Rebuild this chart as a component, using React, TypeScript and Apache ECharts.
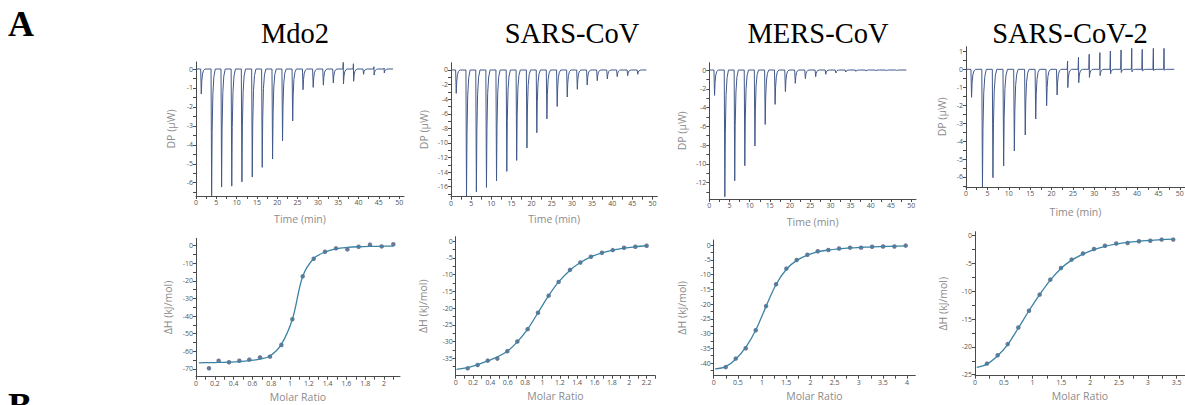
import React, { useEffect, useRef } from "react";
import * as echarts from "echarts";

// ---------- Titles ----------
const panelTitles = ["Mdo2", "SARS-CoV", "MERS-CoV", "SARS-CoV-2"];

// ---------- Thermograms (DP vs time) ----------
const injectionTimes = [1.3, 3.85, 6.3, 8.8, 11.3, 13.85, 16.3, 18.85, 21.3, 23.8, 26.35, 28.85, 31.35, 33.8, 36.3, 38.8, 41.25, 43.85, 46.35];

const mdo2PeakMin = [-1.32, -6.69, -6.23, -6.18, -5.95, -5.7, -5.19, -4.75, -3.79, -2.74, -1.09, -0.97, -0.85, -0.74, -0.79, -0.65, -0.28, -0.32, -0.21];
const mdo2PeakMax = [0, 0, 0, 0, 0, 0, 0, 0, 0, 0, 0, 0, 0, 0, 0.35, 0.28, 0, 0.12, 0.05];
const sarsPeakMin = [-3.2, -17.3, -16.7, -16.1, -15.2, -13.9, -12.4, -10.7, -8.6, -6.7, -5.0, -3.7, -2.65, -2.06, -1.46, -1.23, -0.91, -0.78, -0.59];
const mersPeakMin = [-2.7, -13.5, -11.8, -10.2, -8.1, -5.8, -3.66, -2.3, -1.42, -0.92, -0.71, -0.46, -0.32, -0.21, -0.14, -0.1, -0.07, -0.07, -0.04];
const sars2PeakMin = [-1.56, -6.56, -6.04, -5.39, -4.55, -3.66, -2.77, -2.03, -1.43, -1.02, -0.75, -0.45, -0.35, -0.25, -0.18, -0.14, -0.1, -0.07, -0.05];
const sars2PeakMax = [0, 0, 0, 0, 0, 0, 0, 0, 0, 0.46, 0.67, 0.84, 0.93, 1.02, 1.08, 1.17, 1.11, 1.17, 1.17];
const traceEnd = [48.5, 48.5, 48.8, 48.7];

// ---------- Isotherms (ΔH vs molar ratio) ----------
const mdo2Ratio = [0.138, 0.241, 0.351, 0.461, 0.567, 0.681, 0.787, 0.908, 1.025, 1.135, 1.252, 1.372, 1.489, 1.61, 1.73, 1.851, 1.975, 2.099];
const mdo2DH = [-69.6, -65.3, -66.2, -65.3, -64.7, -63.4, -63, -56.4, -41.8, -17.4, -7.4, -3.4, -1.5, -2.1, -0.6, 0.6, -0.4, 0.8];
const mdo2FitRatio = [0.03, 0.138, 0.241, 0.351, 0.461, 0.567, 0.681, 0.787, 0.908, 1.025, 1.135, 1.252, 1.372, 1.489, 1.61, 1.73, 1.851, 1.975, 2.1];
const mdo2FitDH = [-66.5, -66.4, -66.3, -66.1, -65.8, -65.3, -64.4, -62.6, -56, -41.8, -17.5, -7.3, -3.6, -1.8, -1.0, -0.6, -0.4, -0.3, -0.2];

const sarsRatio = [0.138, 0.253, 0.369, 0.48, 0.595, 0.71, 0.829, 0.948, 1.071, 1.186, 1.317, 1.436, 1.558, 1.685, 1.81, 1.94, 2.07, 2.2];
const sarsDH = [-38.0, -37.0, -35.7, -35.1, -32.9, -30.0, -26.3, -21.4, -16.3, -12.2, -8.6, -6.4, -4.7, -3.5, -2.7, -2.0, -1.7, -1.4];
const sarsFitRatio = [0.01, 0.138, 0.253, 0.369, 0.48, 0.595, 0.71, 0.829, 0.948, 1.071, 1.186, 1.317, 1.436, 1.558, 1.685, 1.81, 1.94, 2.07, 2.2];
const sarsFitDH = [-38.3, -37.8, -36.9, -35.8, -34.6, -32.9, -30.1, -26.3, -21.4, -16.3, -12.2, -8.7, -6.4, -4.7, -3.5, -2.7, -2.1, -1.7, -1.4];

const mersRatio = [0.248, 0.455, 0.662, 0.869, 1.083, 1.29, 1.503, 1.717, 1.938, 2.152, 2.372, 2.593, 2.82, 3.048, 3.276, 3.503, 3.738, 3.972];
const mersDH = [-41.4, -38.5, -35.0, -28.9, -20.7, -13.3, -8.0, -5.1, -3.3, -2.1, -1.7, -1.2, -0.9, -0.9, -0.6, -0.5, -0.5, -0.2];
const mersFitRatio = [0.03, 0.248, 0.455, 0.662, 0.869, 1.083, 1.29, 1.503, 1.717, 1.938, 2.152, 2.372, 2.593, 2.82, 3.048, 3.276, 3.503, 3.738, 3.972];
const mersFitDH = [-42.0, -41.2, -38.7, -34.7, -28.9, -20.8, -13.4, -8.2, -5.2, -3.4, -2.3, -1.7, -1.3, -1.0, -0.8, -0.6, -0.5, -0.4, -0.3];

const sars2Ratio = [0.208, 0.393, 0.567, 0.752, 0.937, 1.122, 1.307, 1.492, 1.677, 1.874, 2.065, 2.256, 2.452, 2.649, 2.846, 3.042, 3.239, 3.441];
const sars2DH = [-23.0, -21.5, -19.5, -16.5, -13.5, -10.6, -7.9, -5.8, -4.3, -3.2, -2.4, -1.8, -1.4, -1.3, -1.0, -0.9, -0.7, -0.7];
const sars2FitRatio = [0.03, 0.208, 0.393, 0.567, 0.752, 0.937, 1.122, 1.307, 1.492, 1.677, 1.874, 2.065, 2.256, 2.452, 2.649, 2.846, 3.042, 3.239, 3.441];
const sars2FitDH = [-23.7, -23.1, -21.6, -19.6, -16.6, -13.5, -10.6, -8.0, -5.9, -4.4, -3.3, -2.5, -1.9, -1.5, -1.2, -1.0, -0.85, -0.7, -0.6];

// ---------- Tick labels ----------
const timeLabels = [0, 5, 10, 15, 20, 25, 30, 35, 40, 45, 50];
const timeMinor = [2.5, 7.5, 12.5, 17.5, 22.5, 27.5, 32.5, 37.5, 42.5, 47.5];
const dp1Labels = [0, -1, -2, -3, -4, -5, -6];
const dp1Minor = [-0.5, -1.5, -2.5, -3.5, -4.5, -5.5, -6.5];
const dp2Labels = [0, -2, -4, -6, -8, -10, -12, -14, -16];
const dp2Minor = [-1, -3, -5, -7, -9, -11, -13, -15, -17];
const dp3Labels = [0, -2, -4, -6, -8, -10, -12];
const dp3Minor = [-1, -3, -5, -7, -9, -11, -13];
const dp4Labels = [1, 0, -1, -2, -3, -4, -5, -6];
const dp4Minor = [0.5, -0.5, -1.5, -2.5, -3.5, -4.5, -5.5, -6.5];

const ratio1Labels = [0, 0.2, 0.4, 0.6, 0.8, 1, 1.2, 1.4, 1.6, 1.8, 2];
const ratio1Minor = [0.1, 0.3, 0.5, 0.7, 0.9, 1.1, 1.3, 1.5, 1.7, 1.9, 2.1];
const ratio2Labels = [0, 0.2, 0.4, 0.6, 0.8, 1, 1.2, 1.4, 1.6, 1.8, 2, 2.2];
const ratio2Minor = [0.1, 0.3, 0.5, 0.7, 0.9, 1.1, 1.3, 1.5, 1.7, 1.9, 2.1, 2.3];
const ratio3Labels = [0, 0.5, 1, 1.5, 2, 2.5, 3, 3.5, 4];
const ratio3Minor = [0.25, 0.75, 1.25, 1.75, 2.25, 2.75, 3.25, 3.75];
const ratio4Labels = [0, 0.5, 1, 1.5, 2, 2.5, 3, 3.5];
const ratio4Minor = [0.25, 0.75, 1.25, 1.75, 2.25, 2.75, 3.25];
const dh1Labels = [0, -10, -20, -30, -40, -50, -60, -70];
const dh1Minor = [-5, -15, -25, -35, -45, -55, -65];
const dh2Labels = [0, -5, -10, -15, -20, -25, -30, -35];
const dh2Minor = [-2.5, -7.5, -12.5, -17.5, -22.5, -27.5, -32.5, -37.5];
const dh3Labels = [0, -5, -10, -15, -20, -25, -30, -35, -40];
const dh3Minor = [-2.5, -7.5, -12.5, -17.5, -22.5, -27.5, -32.5, -37.5, -42.5];
const dh4Labels = [0, -5, -10, -15, -20, -25];
const dh4Minor = [-2.5, -7.5, -12.5, -17.5, -22.5];

// peak profile: [time offset after the peak, fraction of the peak depth]
const PEAK_SHAPE = [[0.12, 0.5], [0.3, 0.2], [0.55, 0.06], [0.9, 0]];

function buildTrace(mins: number[], maxs: number[] | null, end: number) {
  const d: number[][] = [[0.1, 0]];
  injectionTimes.forEach((t, i) => {
    d.push([t - 0.15, 0]);
    if (maxs && maxs[i] > 0) d.push([t - 0.05, maxs[i]]);
    d.push([t, mins[i]]);
    PEAK_SHAPE.forEach(([dt, f]) => d.push([t + dt, mins[i] * f]));
  });
  d.push([end, 0]);
  return d;
}

const zip = (xs: number[], ys: number[]) => xs.map((x, i) => [x, ys[i]]);

const FONT = "'Open Sans', 'Noto Sans', sans-serif";
const AXIS_COLOR = "#4a4a4a";
const LABEL_COLOR = "#555";
const NAME_COLOR = "#8c8c8c";

function mkAxis(
  gridIndex: number,
  min: number,
  max: number,
  labels: number[],
  minor: number[],
  name: string,
  nameGap: number
) {
  return {
    type: "value",
    gridIndex,
    min,
    max,
    name,
    nameLocation: "middle",
    nameGap,
    nameTextStyle: { color: NAME_COLOR, fontSize: 10.5, fontFamily: FONT },
    axisLine: { show: true, onZero: false, lineStyle: { color: AXIS_COLOR, width: 1 } },
    axisTick: {
      show: true,
      customValues: [...labels, ...minor],
      length: 3,
      lineStyle: { color: AXIS_COLOR, width: 1 },
    },
    axisLabel: {
      customValues: labels,
      fontSize: 7,
      color: LABEL_COLOR,
      fontFamily: FONT,
      margin: 3,
    },
    splitLine: { show: false },
  };
}

// grid boxes [left, top, right, bottom]
const grids = [
  [196, 62, 404, 196],
  [451, 62.7, 657.3, 196.7],
  [709.3, 62.7, 916, 199],
  [966, 46.7, 1185, 187],
  [196, 238.3, 400, 376.7],
  [455.7, 236.7, 655.3, 375.7],
  [713.7, 240, 915.3, 375.7],
  [975, 231.7, 1185, 375.7],
];

export default function App() {
  const ref = useRef<HTMLDivElement>(null);
  useEffect(() => {
    if (!ref.current) return;
    const chart = echarts.init(ref.current, null, { renderer: "svg" });

    const xAxes = [
      mkAxis(0, 0, 51.2, timeLabels, timeMinor, "Time (min)", 17),
      mkAxis(1, 0, 51.2, timeLabels, timeMinor, "Time (min)", 17),
      mkAxis(2, 0, 51.2, timeLabels, timeMinor, "Time (min)", 17),
      mkAxis(3, 0, 51.2, timeLabels, timeMinor, "Time (min)", 19),
      mkAxis(4, 0, 2.17, ratio1Labels, ratio1Minor, "Molar Ratio", 15),
      mkAxis(5, 0, 2.3, ratio2Labels, ratio2Minor, "Molar Ratio", 15),
      mkAxis(6, 0, 4.17, ratio3Labels, ratio3Minor, "Molar Ratio", 15),
      mkAxis(7, 0, 3.645, ratio4Labels, ratio4Minor, "Molar Ratio", 15),
    ];
    const yAxes = [
      mkAxis(0, -6.7, 0.37, dp1Labels, dp1Minor, "DP (μW)", 20),
      mkAxis(1, -17.37, 1.0, dp2Labels, dp2Minor, "DP (μW)", 22),
      mkAxis(2, -13.74, 0.78, dp3Labels, dp3Minor, "DP (μW)", 22),
      mkAxis(3, -6.56, 1.26, dp4Labels, dp4Minor, "DP (μW)", 19),
      mkAxis(4, -74.4, 4.2, dh1Labels, dh1Minor, "ΔH (kJ/mol)", 23),
      mkAxis(5, -40.2, 1.3, dh2Labels, dh2Minor, "ΔH (kJ/mol)", 27),
      mkAxis(6, -44.3, 1.7, dh3Labels, dh3Minor, "ΔH (kJ/mol)", 26),
      mkAxis(7, -25.18, 0.72, dh4Labels, dh4Minor, "ΔH (kJ/mol)", 27),
    ];

    const traces = [
      buildTrace(mdo2PeakMin, mdo2PeakMax, traceEnd[0]),
      buildTrace(sarsPeakMin, null, traceEnd[1]),
      buildTrace(mersPeakMin, null, traceEnd[2]),
      buildTrace(sars2PeakMin, sars2PeakMax, traceEnd[3]),
    ];
    const fits = [
      zip(mdo2FitRatio, mdo2FitDH),
      zip(sarsFitRatio, sarsFitDH),
      zip(mersFitRatio, mersFitDH),
      zip(sars2FitRatio, sars2FitDH),
    ];
    const points = [
      zip(mdo2Ratio, mdo2DH),
      zip(sarsRatio, sarsDH),
      zip(mersRatio, mersDH),
      zip(sars2Ratio, sars2DH),
    ];

    const series: any[] = [];
    traces.forEach((d, i) => {
      series.push({
        type: "line",
        xAxisIndex: i,
        yAxisIndex: i,
        data: d,
        showSymbol: false,
        symbol: "none",
        lineStyle: { color: "#42598a", width: 1 },
        silent: true,
      });
    });
    fits.forEach((d, i) => {
      series.push({
        type: "line",
        xAxisIndex: 4 + i,
        yAxisIndex: 4 + i,
        data: d,
        smooth: 0.35,
        showSymbol: false,
        symbol: "none",
        lineStyle: { color: "#3c82a4", width: 1.3 },
        silent: true,
      });
    });
    points.forEach((d, i) => {
      series.push({
        type: "scatter",
        xAxisIndex: 4 + i,
        yAxisIndex: 4 + i,
        data: d,
        symbolSize: 4.5,
        itemStyle: { color: "#46597d" },
        silent: true,
      });
    });

    const titleX = [295, 572, 818, 1070];
    const graphic: any[] = [
      {
        type: "text",
        left: 8,
        top: 6,
        style: { text: "A", font: "bold 36px 'Liberation Serif', 'DejaVu Serif', serif", fill: "#000" },
      },
      {
        type: "text",
        left: 8,
        top: 388,
        style: { text: "B", font: "bold 36px 'Liberation Serif', 'DejaVu Serif', serif", fill: "#000" },
      },
      ...panelTitles.map((t, i) => ({
        type: "text",
        x: titleX[i],
        y: 33,
        style: {
          text: t,
          font: "28.5px 'Liberation Serif', 'DejaVu Serif', serif",
          fill: "#000",
          align: "center",
          verticalAlign: "middle",
        },
      })),
    ];

    chart.setOption({
      animation: false,
      backgroundColor: "#fff",
      grid: grids.map(([l, t, r, b]) => ({
        left: l,
        top: t,
        width: r - l,
        height: b - t,
        containLabel: false,
        outerBoundsMode: "none",
      })),
      xAxis: xAxes,
      yAxis: yAxes,
      series,
      graphic,
    });

    return () => chart.dispose();
  }, []);

  return (
    <div
      ref={ref}
      style={{ position: "absolute", left: 0, top: 0, width: 1185, height: 405, background: "#fff" }}
    />
  );
}
